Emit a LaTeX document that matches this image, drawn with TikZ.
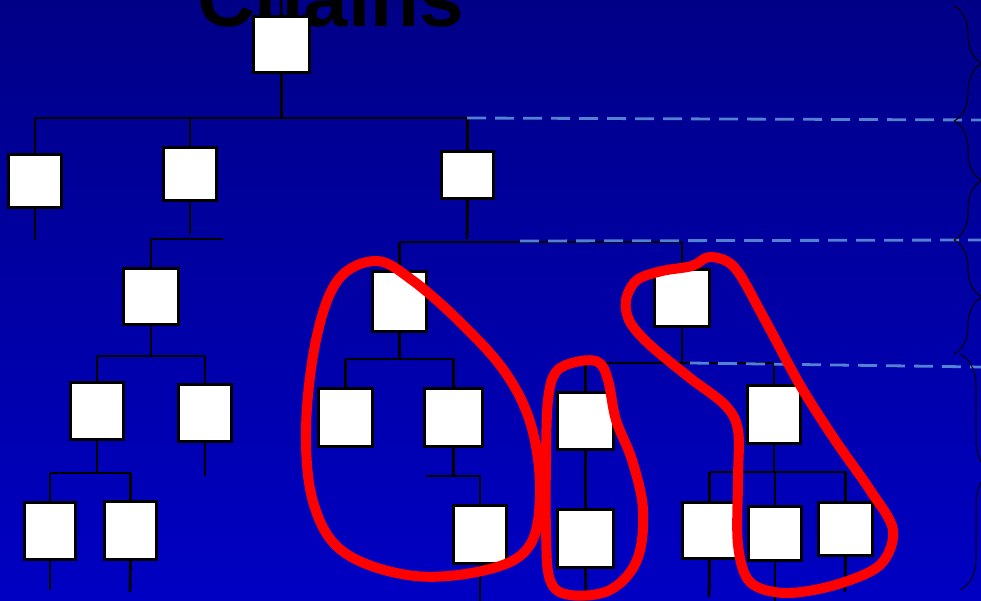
\documentclass[tikz,border=0pt]{standalone}
\usepackage{fontspec}
\setmainfont{Liberation Sans}
\usetikzlibrary{decorations.pathreplacing}
\definecolor{bgtop}{RGB}{0,0,135}
\definecolor{bgbot}{RGB}{0,0,195}
\definecolor{dashblue}{RGB}{84,130,211}
\tikzset{
  bx/.style={draw=none, inner sep=0pt, rectangle},
  boxdraw/.style={draw=black, fill=white, line width=2.8pt},
  conn/.style={draw=black, line width=2.8pt},
  level/.style={draw=dashblue, line width=2.8pt, dash pattern=on 19pt off 9pt},
  bracemark/.style={draw=black, line width=1pt, decorate, decoration={brace, amplitude=28pt}},
  loop/.style={draw=red, line width=10pt, line join=round}
}
\newcommand{\bxnode}[5]{\node[bx, minimum width=#4pt, minimum height=#5pt] (#1) at (#2,#3) {};}
\begin{document}
\begin{tikzpicture}[x=1pt,y=-1pt]
\useasboundingbox (0,0) rectangle (981,601);
\clip (0,0) rectangle (981,601);
\shade[top color=bgtop, bottom color=bgbot] (0,0) rectangle (981,601);
% title
\node[anchor=base west, inner sep=0pt, font=\fontsize{80}{80}\selectfont\bfseries, text=black] (title) at (197,27) {Chains};
% bar coordinates
\coordinate (top0) at (281,0);
\coordinate (b1) at (0,118);
\coordinate (b2) at (0,239);
\coordinate (b3) at (0,356);
\coordinate (b4) at (0,473);
\coordinate (b5) at (0,242);
\coordinate (b6) at (0,359);
\coordinate (b7) at (0,476);
\coordinate (b8) at (0,363);
\coordinate (b9) at (0,472);
\coordinate (eA) at (35,240);
\coordinate (eB) at (190,234);
\coordinate (eC) at (467,239);
\coordinate (eF) at (205,476);
\coordinate (eG) at (50,590);
\coordinate (eH) at (130,592);
\coordinate (eM) at (480,601);
\coordinate (eP) at (586,601);
\coordinate (eQ) at (709,597);
\coordinate (eR) at (775,601);
\coordinate (eS) at (845,592);
\coordinate (b2r) at (223,239);
\coordinate (b7l) at (426,476);
% boxes (positions)
\bxnode{root}{281.5}{44.5}{56}{56}
\bxnode{A}{35}{181}{53}{53}
\bxnode{B}{190}{174}{53}{53}
\bxnode{C}{467.5}{175}{52}{47}
\bxnode{D}{151}{296.5}{55}{56}
\bxnode{E}{97}{411}{53}{57}
\bxnode{F}{205}{413}{53}{57}
\bxnode{G}{50}{531}{51}{57}
\bxnode{H}{130.5}{530.5}{52}{58}
\bxnode{J}{399.5}{301.5}{54}{60}
\bxnode{K}{345.5}{417.5}{54}{58}
\bxnode{L}{453.5}{417.5}{58}{58}
\bxnode{M}{480}{534.5}{53}{58}
\bxnode{I}{682}{298}{55}{57}
\bxnode{N}{585.5}{421}{56}{57}
\bxnode{P}{585.5}{538.5}{56}{58}
\bxnode{O}{774}{414.5}{53}{58}
\bxnode{Q}{709.5}{530.5}{54}{56}
\bxnode{R}{775}{533.5}{53}{54}
\bxnode{S}{845.5}{529}{54}{53}
% connectors
\path[conn] (root.north) -- (top0);
\path[conn] (root.south) -- (root.south |- b1);
\path[conn] (A.north |- b1) -- (C.north |- b1);
\path[conn] (A.north |- b1) -- (A.north);
\path[conn] (A.south) -- (eA);
\path[conn] (B.north |- b1) -- (B.north);
\path[conn] (B.south) -- (eB);
\path[conn] (C.north |- b1) -- (C.north);
\path[conn] (C.south) -- (eC);
\path[conn] (D.north |- b2) -- (b2r);
\path[conn] (D.north |- b2) -- (D.north);
\path[conn] (D.south) -- (D.south |- b3);
\path[conn] (E.north |- b3) -- (F.north |- b3);
\path[conn] (E.north |- b3) -- (E.north);
\path[conn] (F.north |- b3) -- (F.north);
\path[conn] (F.south) -- (eF);
\path[conn] (E.south) -- (E.south |- b4);
\path[conn] (G.north |- b4) -- (H.north |- b4);
\path[conn] (G.north |- b4) -- (G.north);
\path[conn] (H.north |- b4) -- (H.north);
\path[conn] (G.south) -- (eG);
\path[conn] (H.south) -- (eH);
\path[conn] (J.north |- b5) -- (I.north |- b5);
\path[conn] (J.north |- b5) -- (J.north);
\path[conn] (I.north |- b5) -- (I.north);
\path[conn] (J.south) -- (J.south |- b6);
\path[conn] (K.north |- b6) -- (L.north |- b6);
\path[conn] (K.north |- b6) -- (K.north);
\path[conn] (L.north |- b6) -- (L.north);
\path[conn] (L.south) -- (L.south |- b7);
\path[conn] (b7l) -- (M.north |- b7);
\path[conn] (M.north |- b7) -- (M.north);
\path[conn] (M.south) -- (eM);
\path[conn] (I.south) -- (I.south |- b8);
\path[conn] (N.north |- b8) -- (O.north |- b8);
\path[conn] (N.north |- b8) -- (N.north);
\path[conn] (O.north |- b8) -- (O.north);
\path[conn] (N.south) -- (P.north);
\path[conn] (P.south) -- (eP);
\path[conn] (O.south) -- (O.south |- b9);
\path[conn] (Q.north |- b9) -- (S.north |- b9);
\path[conn] (Q.north |- b9) -- (Q.north);
\path[conn] (R.north |- b9) -- (R.north);
\path[conn] (S.north |- b9) -- (S.north);
\path[conn] (Q.south) -- (eQ);
\path[conn] (R.south) -- (eR);
\path[conn] (S.south) -- (eS);
% boxes drawn on top of connectors
\foreach \n in {root,A,B,C,D,E,F,G,H,J,K,L,M,I,N,P,O,Q,R,S}{
  \path[boxdraw] (\n.north west) rectangle (\n.south east);
}
% level dashed lines
\coordinate (d1a) at (467,118); \coordinate (d1b) at (981,120);
\coordinate (d2a) at (520,241); \coordinate (d2b) at (981,240);
\coordinate (d3a) at (690,363); \coordinate (d3b) at (981,367);
\path[level] (d1a) -- (d1b);
\path[level] (d2a) -- (d2b);
\path[level] (d3a) -- (d3b);
% braces
\coordinate (r1a) at (954,6);   \coordinate (r1b) at (954,121);
\coordinate (r2a) at (954,121); \coordinate (r2b) at (954,240);
\coordinate (r3a) at (954,240); \coordinate (r3b) at (954,354);
\coordinate (r4a) at (960,354); \coordinate (r4b) at (960,590);
\path[bracemark] (r1a) -- (r1b);
\path[bracemark] (r2a) -- (r2b);
\path[bracemark] (r3a) -- (r3b);
\path[bracemark, decoration={brace, amplitude=32pt}] (r4a) -- (r4b);
% red loops
\draw[loop] plot[smooth cycle, tension=0.6] coordinates {
 (376,261) (338,280) (316,340) (306,430) (314,505) (345,553) (415,576) (490,569) (530,545) (540,490) (531,425) (505,372) (460,322) (412,280)};
\draw[loop] plot[smooth cycle, tension=0.6] coordinates {
 (556,372) (576,362) (598,362) (608,380) (616,420) (632,460) (643,510) (637,560) (610,590) (570,595) (550,580) (546,530) (546,460) (548,400)};
\draw[loop] plot[smooth cycle, tension=0.55] coordinates {
 (626,300) (637,280) (662,271) (692,266) (710,257) (735,268) (765,320) (800,385) (835,440) (870,490) (893,530) (880,565) (835,585) (785,593) (750,582) (738,545) (738,480) (738,430) (725,405) (690,378) (650,345) (630,322)};
\end{tikzpicture}
\end{document}
